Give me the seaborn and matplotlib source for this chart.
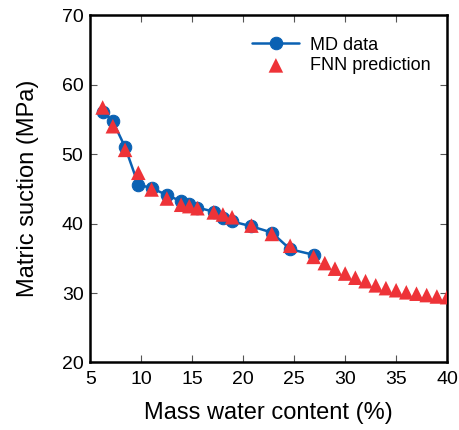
import matplotlib
matplotlib.use("Agg")
import matplotlib.pyplot as plt
import seaborn as sns
import pandas as pd

md_x = [6.2, 7.2, 8.4, 9.7, 11.0, 12.5, 13.9, 14.7, 15.5, 17.1, 18.0, 18.9, 20.8, 22.8, 24.6, 26.9]
md_y = [56.1, 54.7, 51.0, 45.6, 45.1, 44.1, 43.2, 42.8, 42.3, 41.7, 40.8, 40.3, 39.6, 38.7, 36.3, 35.5]

fnn_x = [6.2, 7.2, 8.4, 9.7, 11.0, 12.5, 13.9, 14.7, 15.5, 17.1, 18.0, 18.9, 20.8, 22.8, 24.6, 26.9,
         28, 29, 30, 31, 32, 33, 34, 35, 36, 37, 38, 39, 40]
fnn_y = [56.7, 54.0, 50.6, 47.3, 44.9, 43.6, 42.7, 42.5, 42.2, 41.6, 41.3, 40.9, 39.7, 38.5, 36.8, 35.2,
         34.3, 33.5, 32.8, 32.2, 31.7, 31.1, 30.7, 30.4, 30.1, 29.9, 29.7, 29.5, 29.4]

x_ticks = [5, 10, 15, 20, 25, 30, 35, 40]
y_ticks = [20, 30, 40, 50, 60, 70]

sns.set_style("ticks")
plt.rcParams['font.family'] = ['Liberation Sans', 'DejaVu Sans']
plt.rcParams['text.color'] = 'black'
plt.rcParams['axes.labelcolor'] = 'black'
plt.rcParams['xtick.labelcolor'] = 'black'
plt.rcParams['ytick.labelcolor'] = 'black'

fig = plt.figure(figsize=(4.59, 4.30), dpi=100)
ax = fig.add_axes([0.197, 0.157, 0.777, 0.808])

md = pd.DataFrame({"x": md_x, "y": md_y})
fnn = pd.DataFrame({"x": fnn_x, "y": fnn_y})

blue = "#0a61b3"
red = "#ee3338"

sns.lineplot(data=md, x="x", y="y", ax=ax, color=blue, marker="o", markersize=9,
             markeredgecolor=blue, linewidth=1.8, label="MD data", sort=False)
sns.scatterplot(data=fnn, x="x", y="y", ax=ax, color=red, marker="^", s=110,
                edgecolor="none", label="FNN prediction", zorder=3)

ax.set_xlim(5, 40)
ax.set_ylim(20, 70)
ax.set_xticks(x_ticks)
ax.set_yticks(y_ticks)
ax.tick_params(direction="in", top=True, right=True, length=5, width=0.8,
               color="#555555", labelsize=14, pad=5)
ax.tick_params(axis="x", pad=6)
for s in ax.spines.values():
    s.set_linewidth(1.8)
    s.set_color("black")

ax.set_xlabel("Mass water content (%)", fontsize=17, labelpad=10)
ax.set_ylabel("Matric suction (MPa)", fontsize=17, labelpad=16)

leg = ax.legend(loc="upper right", bbox_to_anchor=(1.0, 0.985), frameon=False,
                fontsize=13, handlelength=2.6, handletextpad=0.6, labelspacing=0.2)

fig.savefig("out.png", dpi=100)
